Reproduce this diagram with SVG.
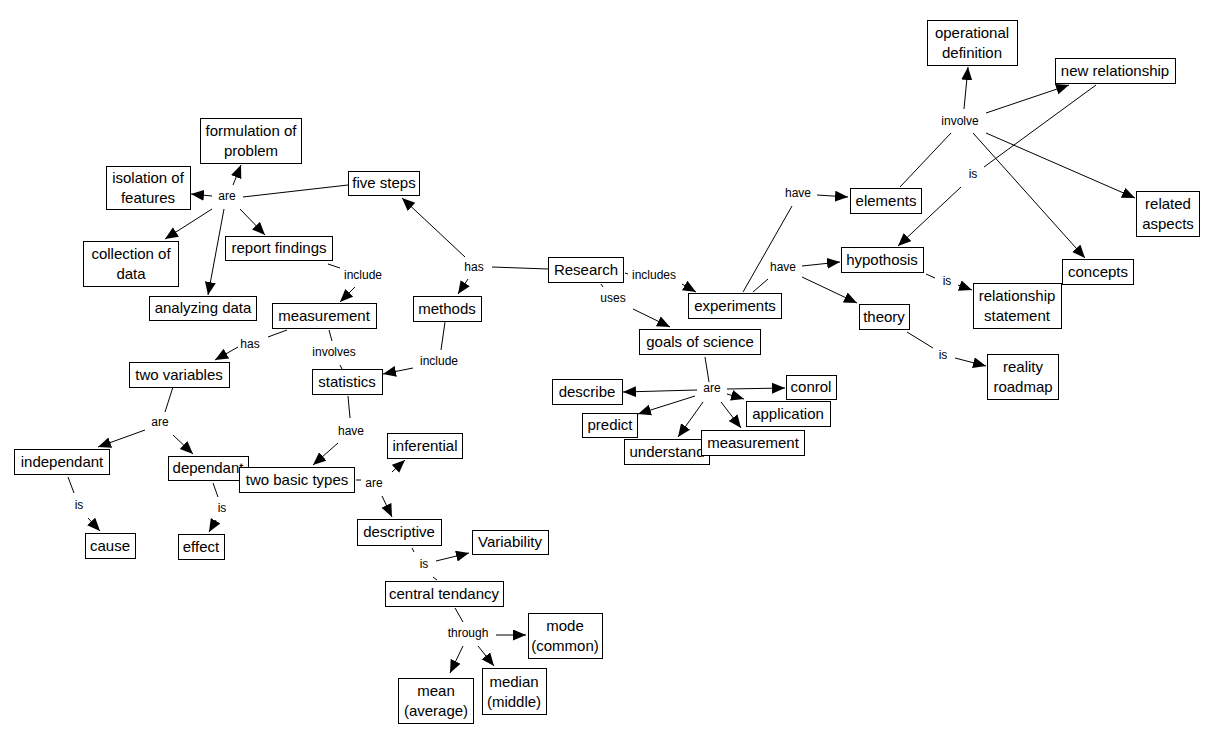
<svg xmlns="http://www.w3.org/2000/svg" width="1215" height="743" viewBox="0 0 1215 743">
<style>
.n rect{fill:#fff;stroke:#000;stroke-width:1}
.n text{font-family:"Liberation Sans",Arial,sans-serif;font-size:15px;fill:#000;text-anchor:middle}
.c line{stroke:#000;stroke-width:1}
.c line.a{marker-end:url(#ah)}
.lb text{font-family:"Liberation Sans",Arial,sans-serif;font-size:12px;fill:#000;text-anchor:middle}
</style>
<defs>
<marker id="ah" markerUnits="userSpaceOnUse" markerWidth="14" markerHeight="12" refX="13" refY="5.5" orient="auto">
<path d="M0,0 L13,5.5 L0,11 z" fill="#000"/>
</marker>
</defs>
<rect width="1215" height="743" fill="#fff"/>
<g id="connectors" class="c">
<line x1="348" y1="185" x2="243" y2="197"/>
<line class="a" x1="233" y1="185" x2="241" y2="165"/>
<line class="a" x1="212" y1="196" x2="191" y2="194"/>
<line class="a" x1="212" y1="209" x2="165" y2="239"/>
<line class="a" x1="224" y1="209" x2="208" y2="295"/>
<line class="a" x1="240" y1="209" x2="265" y2="235"/>
<line x1="548" y1="269" x2="492" y2="267"/>
<line class="a" x1="465" y1="257" x2="402" y2="198"/>
<line class="a" x1="468" y1="279" x2="458" y2="294"/>
<line x1="328" y1="264" x2="340" y2="268"/>
<line class="a" x1="355" y1="287" x2="340" y2="302"/>
<line x1="287" y1="330" x2="268" y2="337"/>
<line class="a" x1="238" y1="347" x2="215" y2="360"/>
<line x1="329" y1="330" x2="332" y2="341"/>
<line x1="340" y1="365" x2="342" y2="369"/>
<line x1="445" y1="322" x2="441" y2="350"/>
<line class="a" x1="413" y1="368" x2="383" y2="374"/>
<line x1="348" y1="396" x2="350" y2="418"/>
<line class="a" x1="338" y1="443" x2="313" y2="465"/>
<line x1="356" y1="480" x2="361" y2="480"/>
<line class="a" x1="392" y1="472" x2="405" y2="460"/>
<line class="a" x1="382" y1="496" x2="392" y2="517"/>
<line x1="173" y1="387" x2="165" y2="412"/>
<line class="a" x1="145" y1="430" x2="98" y2="447"/>
<line class="a" x1="173" y1="435" x2="193" y2="454"/>
<line x1="68" y1="477" x2="74" y2="493"/>
<line class="a" x1="88" y1="518" x2="100" y2="531"/>
<line x1="213" y1="483" x2="218" y2="497"/>
<line class="a" x1="216" y1="520" x2="209" y2="532"/>
<line x1="412" y1="548" x2="414" y2="552"/>
<line class="a" x1="436" y1="561" x2="469" y2="553"/>
<line x1="433" y1="577" x2="437" y2="580"/>
<line x1="455" y1="608" x2="463" y2="622"/>
<line class="a" x1="496" y1="635" x2="526" y2="635"/>
<line class="a" x1="463" y1="646" x2="450" y2="673"/>
<line class="a" x1="478" y1="646" x2="494" y2="666"/>
<line x1="625" y1="273" x2="628" y2="274"/>
<line class="a" x1="682" y1="284" x2="696" y2="292"/>
<line x1="601" y1="284" x2="603" y2="287"/>
<line class="a" x1="633" y1="309" x2="670" y2="327"/>
<line x1="705" y1="357" x2="709" y2="382"/>
<line class="a" x1="697" y1="390" x2="623" y2="392"/>
<line class="a" x1="727" y1="389" x2="785" y2="388"/>
<line class="a" x1="727" y1="394" x2="744" y2="399"/>
<line class="a" x1="695" y1="396" x2="638" y2="414"/>
<line class="a" x1="703" y1="402" x2="678" y2="437"/>
<line class="a" x1="721" y1="402" x2="741" y2="428"/>
<line x1="743" y1="292" x2="792" y2="206"/>
<line class="a" x1="817" y1="195" x2="848" y2="197"/>
<line x1="753" y1="292" x2="768" y2="279"/>
<line class="a" x1="802" y1="266" x2="840" y2="262"/>
<line class="a" x1="802" y1="277" x2="857" y2="303"/>
<line x1="900" y1="187" x2="951" y2="133"/>
<line class="a" x1="964" y1="109" x2="968" y2="67"/>
<line class="a" x1="986" y1="113" x2="1069" y2="85"/>
<line class="a" x1="986" y1="133" x2="1135" y2="198"/>
<line class="a" x1="973" y1="133" x2="1085" y2="258"/>
<line x1="1096" y1="85" x2="984" y2="167"/>
<line class="a" x1="961" y1="187" x2="898" y2="246"/>
<line x1="926" y1="274" x2="935" y2="278"/>
<line class="a" x1="958" y1="285" x2="972" y2="290"/>
<line x1="907" y1="332" x2="933" y2="348"/>
<line class="a" x1="955" y1="358" x2="986" y2="366"/>
<g id="labels" class="lb">
<text x="227" y="200">are</text>
<text x="474" y="271">has</text>
<text x="363" y="279">include</text>
<text x="250" y="348">has</text>
<text x="334" y="356">involves</text>
<text x="439" y="365">include</text>
<text x="351" y="435">have</text>
<text x="374" y="487">are</text>
<text x="160" y="426">are</text>
<text x="79" y="509">is</text>
<text x="222" y="512">is</text>
<text x="424" y="568">is</text>
<text x="468" y="637">through</text>
<text x="654" y="279">includes</text>
<text x="613" y="302">uses</text>
<text x="712" y="392">are</text>
<text x="798" y="197">have</text>
<text x="783" y="271">have</text>
<text x="960" y="125">involve</text>
<text x="973" y="178">is</text>
<text x="947" y="285">is</text>
<text x="943" y="359">is</text>
</g>
</g>
<g id="n-formulation" class="n"><rect x="200.5" y="118.5" width="101" height="45"/><text x="251" y="136">formulation of</text><text x="251" y="156">problem</text></g>
<g id="n-isolation" class="n"><rect x="106.5" y="166.5" width="84" height="43"/><text x="148" y="183">isolation of</text><text x="148" y="203">features</text></g>
<g id="n-five-steps" class="n"><rect x="348.5" y="171.5" width="71" height="24"/><text x="384" y="188">five steps</text></g>
<g id="n-collection" class="n"><rect x="83.5" y="241.5" width="95" height="45"/><text x="131" y="259">collection of</text><text x="131" y="279">data</text></g>
<g id="n-report" class="n"><rect x="225.5" y="236.5" width="107" height="24"/><text x="279" y="253">report findings</text></g>
<g id="n-analyzing" class="n"><rect x="149.5" y="296.5" width="107" height="24"/><text x="203" y="313">analyzing data</text></g>
<g id="n-measurement-l" class="n"><rect x="272.5" y="303.5" width="104" height="25"/><text x="324" y="321">measurement</text></g>
<g id="n-methods" class="n"><rect x="413.5" y="296.5" width="68" height="25"/><text x="447" y="314">methods</text></g>
<g id="n-two-variables" class="n"><rect x="129.5" y="362.5" width="100" height="25"/><text x="179" y="380">two variables</text></g>
<g id="n-statistics" class="n"><rect x="312.5" y="369.5" width="70" height="25"/><text x="347" y="387">statistics</text></g>
<g id="n-independant" class="n"><rect x="14.5" y="449.5" width="95" height="25"/><text x="62" y="467">independant</text></g>
<g id="n-dependant" class="n"><rect x="168.5" y="456.5" width="80" height="24"/><text x="208" y="473">dependant</text></g>
<g id="n-two-basic" class="n"><rect x="239.5" y="467.5" width="115" height="25"/><text x="297" y="485">two basic types</text></g>
<g id="n-inferential" class="n"><rect x="387.5" y="433.5" width="75" height="25"/><text x="425" y="451">inferential</text></g>
<g id="n-cause" class="n"><rect x="85.5" y="533.5" width="50" height="25"/><text x="110" y="551">cause</text></g>
<g id="n-effect" class="n"><rect x="178.5" y="534.5" width="46" height="25"/><text x="201" y="552">effect</text></g>
<g id="n-descriptive" class="n"><rect x="357.5" y="519.5" width="84" height="26"/><text x="399" y="537">descriptive</text></g>
<g id="n-variability" class="n"><rect x="472.5" y="530.5" width="76" height="24"/><text x="510" y="547">Variability</text></g>
<g id="n-central" class="n"><rect x="385.5" y="581.5" width="118" height="25"/><text x="444" y="599">central tendancy</text></g>
<g id="n-mode" class="n"><rect x="528.5" y="613.5" width="74" height="45"/><text x="565" y="631">mode</text><text x="565" y="651">(common)</text></g>
<g id="n-mean" class="n"><rect x="398.5" y="678.5" width="75" height="45"/><text x="436" y="696">mean</text><text x="436" y="716">(average)</text></g>
<g id="n-median" class="n"><rect x="482.5" y="668.5" width="64" height="46"/><text x="514" y="687">median</text><text x="514" y="707">(middle)</text></g>
<g id="n-research" class="n"><rect x="548.5" y="257.5" width="75" height="25"/><text x="586" y="275">Research</text></g>
<g id="n-experiments" class="n"><rect x="688.5" y="293.5" width="93" height="25"/><text x="735" y="311">experiments</text></g>
<g id="n-goals" class="n"><rect x="639.5" y="329.5" width="121" height="25"/><text x="700" y="347">goals of science</text></g>
<g id="n-describe" class="n"><rect x="552.5" y="379.5" width="70" height="25"/><text x="587" y="397">describe</text></g>
<g id="n-conrol" class="n"><rect x="786.5" y="375.5" width="50" height="24"/><text x="811" y="392">conrol</text></g>
<g id="n-application" class="n"><rect x="746.5" y="401.5" width="84" height="25"/><text x="788" y="419">application</text></g>
<g id="n-predict" class="n"><rect x="582.5" y="413.5" width="55" height="24"/><text x="610" y="430">predict</text></g>
<g id="n-understand" class="n"><rect x="624.5" y="439.5" width="85" height="25"/><text x="667" y="457">understand</text></g>
<g id="n-measurement-r" class="n"><rect x="701.5" y="430.5" width="103" height="25"/><text x="753" y="448">measurement</text></g>
<g id="n-operational" class="n"><rect x="927.5" y="20.5" width="90" height="45"/><text x="972" y="38">operational</text><text x="972" y="58">definition</text></g>
<g id="n-new-relationship" class="n"><rect x="1055.5" y="58.5" width="120" height="25"/><text x="1115" y="76">new relationship</text></g>
<g id="n-elements" class="n"><rect x="850.5" y="188.5" width="71" height="25"/><text x="886" y="206">elements</text></g>
<g id="n-related" class="n"><rect x="1136.5" y="191.5" width="63" height="45"/><text x="1168" y="209">related</text><text x="1168" y="229">aspects</text></g>
<g id="n-hypothosis" class="n"><rect x="841.5" y="247.5" width="82" height="25"/><text x="882" y="265">hypothosis</text></g>
<g id="n-concepts" class="n"><rect x="1062.5" y="259.5" width="71" height="25"/><text x="1098" y="277">concepts</text></g>
<g id="n-relationship-statement" class="n"><rect x="973.5" y="283.5" width="88" height="45"/><text x="1017" y="301">relationship</text><text x="1017" y="321">statement</text></g>
<g id="n-theory" class="n"><rect x="859.5" y="304.5" width="50" height="25"/><text x="884" y="322">theory</text></g>
<g id="n-reality" class="n"><rect x="987.5" y="354.5" width="71" height="45"/><text x="1023" y="372">reality</text><text x="1023" y="392">roadmap</text></g>
</svg>
